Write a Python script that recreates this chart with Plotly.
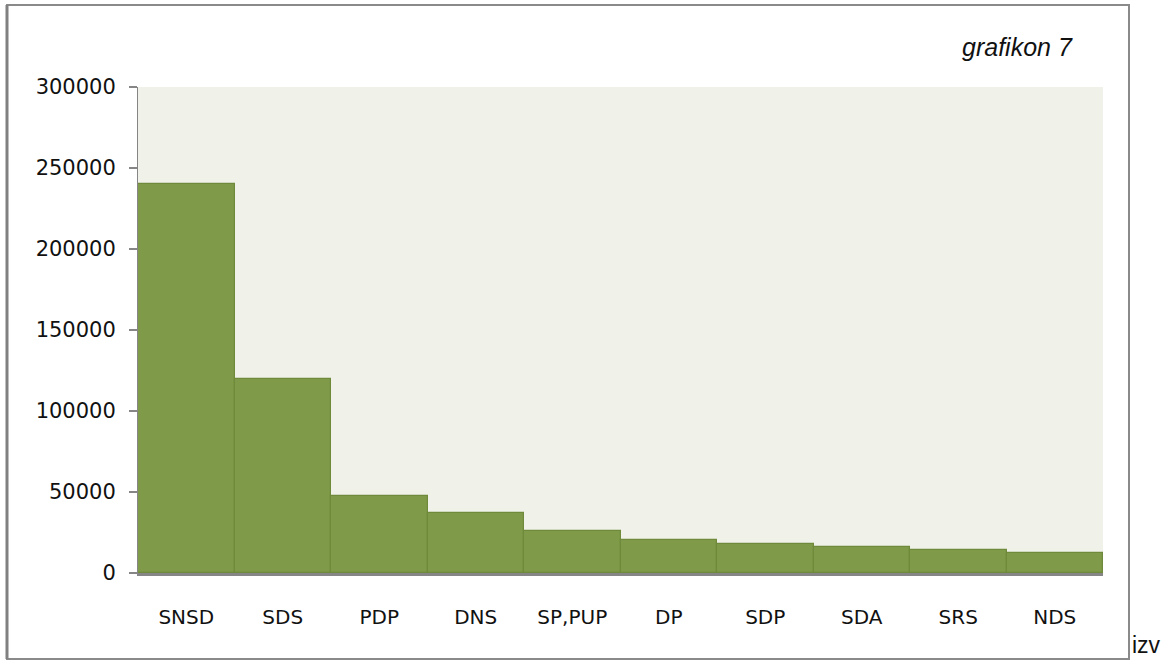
import plotly.graph_objects as go

categories = ["SNSD", "SDS", "PDP", "DNS", "SP,PUP", "DP", "SDP", "SDA", "SRS", "NDS"]
values = [240000, 119500, 47500, 37000, 26000, 20500, 18000, 16000, 14000, 12500]
y_ticks = [0, 50000, 100000, 150000, 200000, 250000, 300000]

W, H = 1168, 662
L, R, T, B = 138, 1103, 87, 573  # plot area in px

def px_x(p):
    return (p - L) / (R - L)

def px_y(p):
    return (B - p) / (B - T)

fig = go.Figure(go.Bar(
    x=categories, y=values, width=1.0,
    marker=dict(color="#7f9a48", line=dict(color="#6e8a3a", width=1.2)),
    hoverinfo="x+y",
))

fig.update_layout(
    width=W, height=H,
    margin=dict(l=L, r=W - R, t=T, b=H - B, pad=0),
    paper_bgcolor="white", plot_bgcolor="#f0f2ea",
    bargap=0, showlegend=False,
    font=dict(family="DejaVu Sans", size=19, color="#111111"),
    xaxis=dict(showline=True, linecolor="#868686", linewidth=3, ticks="",
               showgrid=False, ticklabelstandoff=24, range=[-0.5, 9.5],
               tickfont=dict(size=20)),
    yaxis=dict(range=[0, 300000], tickvals=y_ticks, tickformat="d",
               showline=True, linecolor="#868686", linewidth=1,
               ticks="outside", ticklen=8, tickcolor="#868686", tickwidth=1.5,
               showgrid=False, zeroline=False, ticklabelstandoff=9,
               tickfont=dict(size=21)),
    shapes=[
        dict(type="rect", xref="paper", yref="paper",
             x0=px_x(7), x1=px_x(1129), y0=px_y(659), y1=px_y(5),
             line=dict(color="#8a8a8a", width=2), layer="below"),
        dict(type="line", xref="paper", yref="paper",
             x0=px_x(7), x1=px_x(7), y0=px_y(659), y1=px_y(5),
             line=dict(color="#808080", width=3), layer="below"),
    ],
    annotations=[
        dict(text="<i>grafikon 7</i>", xref="paper", yref="paper",
             x=px_x(1075), y=px_y(47), xanchor="right", yanchor="middle",
             showarrow=False, font=dict(family="Liberation Sans", size=25, color="#111111")),
        dict(text="izv", xref="paper", yref="paper",
             x=px_x(1130), y=px_y(645), xanchor="left", yanchor="middle",
             showarrow=False, font=dict(family="Liberation Sans", size=23, color="#111111")),
    ],
)

fig.write_html("out.html", config={"displayModeBar": False},
               post_script="document.body.style.margin='0';document.body.style.padding='0';")
